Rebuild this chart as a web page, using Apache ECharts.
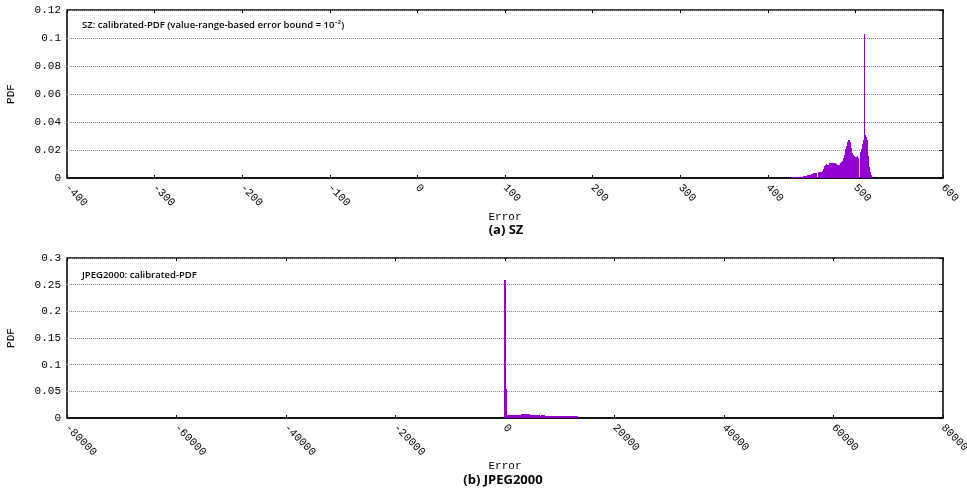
<!DOCTYPE html>
<html>
<head>
<meta charset="utf-8">
<script src="https://cdn.jsdelivr.net/npm/echarts@6/dist/echarts.min.js"></script>
<style>
  html, body { margin: 0; padding: 0; background: #fff; }
  #chart { width: 967px; height: 492px; }
</style>
</head>
<body>
<div id="chart"></div>
<script>
// (a) SZ: error histogram, 1-unit bins
const szError = [
  420, 421, 422, 423, 424, 425, 426, 427, 428, 429,
  430, 431, 432, 433, 434, 435, 436, 437, 438, 439,
  440, 441, 442, 443, 444, 445, 446, 447, 448, 449,
  450, 451, 452, 453, 454, 455, 456, 457, 458, 459,
  460, 461, 462, 463, 464, 465, 466, 467, 468, 469,
  470, 471, 472, 473, 474, 475, 476, 477, 478, 479,
  480, 481, 482, 483, 484, 485, 486, 487, 488, 489,
  490, 491, 492, 493, 494, 495, 496, 497, 498, 499,
  500, 501, 502, 503, 504, 505, 506, 507, 508, 509,
  510, 511, 512, 513, 514, 515, 516, 517, 518, 519,
  520, 521
];
const szPdf = [
  0.0003, 0.0003, 0.0002, 0.0004, 0.0003, 0.0004, 0.0003, 0.0005, 0.0004, 0.0005,
  0.0006, 0.0004, 0.0005, 0.0008, 0.0006, 0.0009, 0.0007, 0.0008, 0.0009, 0.0008,
  0.0010, 0.0011, 0.0013, 0.0014, 0.0014, 0.0017, 0.0018, 0.0019, 0.0020, 0.0024,
  0.0026, 0.0025, 0.0032, 0.0034, 0.0033, 0.0036, 0.0035, 0.0000, 0.0042, 0.0044,
  0.0041, 0.0044, 0.0046, 0.0052, 0.0062, 0.0085, 0.0095, 0.0100, 0.0092, 0.0095,
  0.0000, 0.0105, 0.0110, 0.0108, 0.0105, 0.0000, 0.0110, 0.0108, 0.0102, 0.0098,
  0.0093, 0.0090, 0.0092, 0.0098, 0.0110, 0.0115, 0.0125, 0.0140, 0.0165, 0.0205,
  0.0230, 0.0000, 0.0255, 0.0268, 0.0260, 0.0240, 0.0215, 0.0180, 0.0165, 0.0155,
  0.0148, 0.0145, 0.0150, 0.0155, 0.0145, 0.0000, 0.0185, 0.0195, 0.0210, 0.0240,
  0.0275, 0.1030, 0.0310, 0.0295, 0.0270, 0.0160, 0.0080, 0.0045, 0.0025, 0.0012,
  0.0005, 0.0002
];

// (b) JPEG2000: variable-width bins
const jpegLo  = [-65600, -80, 100, 300, 3050, 4550, 6400, 6700, 7300, 22500];
const jpegHi  = [-65300, 100, 300, 3050, 4550, 6400, 6700, 7300, 13400, 23200];
const jpegPdf = [0.0008, 0.258, 0.055, 0.0052, 0.0072, 0.0050, 0.0032, 0.0060, 0.0029, 0.0006];

const szTicks = { min: -400, max: 600, interval: 100 };
const jpegTicks = { min: -80000, max: 80000, interval: 20000 };
const szYTicks = { min: 0, max: 0.12, interval: 0.02 };
const jpegYTicks = { min: 0, max: 0.3, interval: 0.05 };

const PURPLE = '#9400d3';
const MONO = '"Liberation Mono", "DejaVu Sans Mono", monospace';
const SANS = '"Open Sans", "Noto Sans", sans-serif';

const szData = szError.map((e, i) => [e - 0.5, e + 0.5, szPdf[i]]);
const jpegData = jpegLo.map((lo, i) => [lo, jpegHi[i], jpegPdf[i]]);

// snap each bin to whole pixels so thin bars stay solid
function renderBin(params, api) {
  if (api.value(2) <= 0) return null;
  const tl = api.coord([api.value(0), api.value(2)]);
  const br = api.coord([api.value(1), 0]);
  const x0 = Math.floor(tl[0]);
  const x1 = Math.max(Math.round(br[0]), x0 + 1);
  const y0 = Math.round(tl[1]);
  return {
    type: 'rect',
    shape: { x: x0, y: y0, width: x1 - x0, height: Math.max(br[1] - y0, 1) },
    style: { fill: PURPLE }
  };
}

function bottomX(gridIndex, t, nameGap) {
  return {
    type: 'value', gridIndex, position: 'bottom',
    min: t.min, max: t.max, interval: t.interval,
    name: 'Error', nameLocation: 'middle', nameGap,
    nameTextStyle: { fontFamily: MONO, fontSize: 11, color: '#000' },
    axisLine: { show: true, onZero: false, lineStyle: { color: '#000', width: 1.5 } },
    axisTick: { show: true, inside: true, length: 3, lineStyle: { color: '#000' } },
    axisLabel: { rotate: -45, margin: 8, fontFamily: MONO, fontSize: 11, color: '#000', formatter: v => String(v) },
    splitLine: { show: false }
  };
}
function topX(gridIndex, t) {
  return {
    type: 'value', gridIndex, position: 'top',
    min: t.min, max: t.max, interval: t.interval,
    axisLine: { show: false, onZero: false },
    axisTick: { show: true, inside: true, length: 3, lineStyle: { color: '#000' } },
    axisLabel: { show: false },
    splitLine: { show: false }
  };
}
function leftY(gridIndex, t) {
  return {
    type: 'value', gridIndex, position: 'left',
    min: t.min, max: t.max, interval: t.interval,
    name: 'PDF', nameLocation: 'middle', nameGap: 50,
    nameTextStyle: { fontFamily: MONO, fontSize: 11, color: '#000' },
    axisLine: { show: false, onZero: false },
    axisTick: { show: true, inside: false, length: 2, lineStyle: { color: '#777', type: 'dotted' } },
    axisLabel: { margin: 6, fontFamily: MONO, fontSize: 11, color: '#000' },
    splitLine: { show: true, lineStyle: { color: '#888', type: [1, 1], width: 1 } }
  };
}
function rightY(gridIndex, t) {
  return {
    type: 'value', gridIndex, position: 'right',
    min: t.min, max: t.max, interval: t.interval,
    axisLine: { show: false, onZero: false },
    axisTick: { show: true, inside: true, length: 4, lineStyle: { color: '#000' } },
    axisLabel: { show: false },
    splitLine: { show: false }
  };
}

const chart = echarts.init(document.getElementById('chart'), null, { renderer: 'canvas' });
chart.setOption({
  animation: false,
  backgroundColor: '#fff',
  grid: [
    { left: 67, top: 10, width: 876, height: 168, show: true, borderColor: '#000', borderWidth: 1.5, backgroundColor: 'transparent', outerBoundsMode: 'none', containLabel: false },
    { left: 67, top: 258, width: 876, height: 160, show: true, borderColor: '#000', borderWidth: 1.5, backgroundColor: 'transparent', outerBoundsMode: 'none', containLabel: false }
  ],
  xAxis: [bottomX(0, szTicks, 33), topX(0, szTicks), bottomX(1, jpegTicks, 41), topX(1, jpegTicks)],
  yAxis: [leftY(0, szYTicks), rightY(0, szYTicks), leftY(1, jpegYTicks), rightY(1, jpegYTicks)],
  series: [
    { type: 'custom', xAxisIndex: 0, yAxisIndex: 0, renderItem: renderBin, data: szData, encode: { x: [0, 1], y: 2 }, clip: true },
    { type: 'custom', xAxisIndex: 2, yAxisIndex: 2, renderItem: renderBin, data: jpegData, encode: { x: [0, 1], y: 2 }, clip: true }
  ],
  graphic: [
    { type: 'text', left: 82, top: 20, style: { text: 'SZ: calibrated-PDF (value-range-based error bound = 10⁻²)', font: '600 9.5px ' + SANS, fill: '#000' } },
    { type: 'text', left: 82, top: 270, style: { text: 'JPEG2000: calibrated-PDF', font: '600 9.5px ' + SANS, fill: '#000' } },
    { type: 'text', x: 506, y: 230, style: { text: '(a) SZ', font: 'bold 13px ' + SANS, fill: '#000', align: 'center', verticalAlign: 'middle' } },
    { type: 'text', x: 503, y: 480, style: { text: '(b) JPEG2000', font: 'bold 13px ' + SANS, fill: '#000', align: 'center', verticalAlign: 'middle' } }
  ]
});
</script>
</body>
</html>
